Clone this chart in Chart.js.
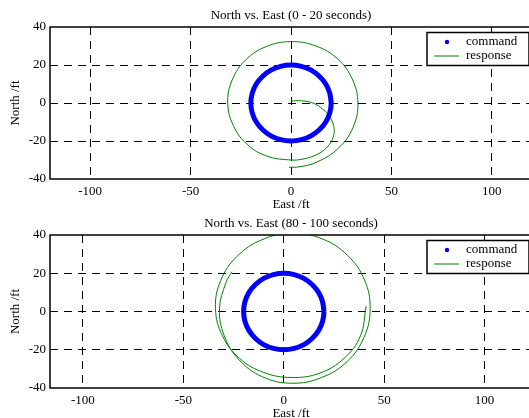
<!DOCTYPE html>
<html>
<head>
<meta charset="utf-8">
<script src="https://cdn.jsdelivr.net/npm/chart.js@4/dist/chart.umd.min.js"></script>
<style>
  html, body { margin: 0; padding: 0; background: #fff; overflow: hidden; width: 529px; height: 418px; }
  .plot { position: absolute; left: 0; }
</style>
</head>
<body>
<div class="plot" style="top:0"><canvas id="chartEarly" width="532" height="209"></canvas></div>
<div class="plot" style="top:208px"><canvas id="chartLate" width="532" height="210"></canvas></div>
<script>
// tick labels
const xTicks = [-100, -50, 0, 50, 100];
const yTicks = [-40, -20, 0, 20, 40];

// command path: 20 ft circle (same in both windows)
const commandEast  = [20, 19.3, 17.3, 14.1, 10, 5.2, 0, -5.2, -10, -14.1, -17.3, -19.3, -20, -19.3, -17.3, -14.1, -10, -5.2, 0, 5.2, 10, 14.1, 17.3, 19.3, 20, 19.3];
const commandNorth = [0, 5.2, 10, 14.1, 17.3, 19.3, 20, 19.3, 17.3, 14.1, 10, 5.2, 0, -5.2, -10, -14.1, -17.3, -19.3, -20, -19.3, -17.3, -14.1, -10, -5.2, 0, 5.2];

// response, 0 - 20 s (spirals out from the origin)
const responseEarlyEast  = [0, 4, 8, 12, 15.5, 18.5, 20.6, 21.5, 21, 19, 15.5, 11, 5.5, 0, -11.6, -21.8, -28.7, -31.5,
                            -29.3, -22.6, -12.3, 0, 12.4, 23.2, 30.5, 33.3, 30.9, 23.7, 12.9, 4, -1];
const responseEarlyNorth = [1, 1.2, 0.8, -0.5, -3, -6, -10, -14, -18, -22, -25.5, -28, -29.6, -30, -28.1, -21.8, -11.9, 0,
                            12.1, 22.6, 29.7, 32.3, 30, 23.2, 12.6, 0, -12.8, -23.7, -31.1, -33.6, -33.8];

// response, 80 - 100 s (two laps)
const responseLateEast  = [41, 38.2, 30, 18, 4, -9.9, -22, -30.5, -34, -31.4, -23.3, -10.9, 4, 19.1, 31.8, 40.2, 43,
                           40, 31.6, 18.9, 4, -10.7, -22.5, -29.7, -32, -28.8, -25.8];
const responseLateNorth = [2.8, -12.7, -24.5, -32.2, -34.5, -31.9, -24.5, -12.8, 1.5, 16.2, 28.8, 37.5, 41, 38, 29.3, 16.5, 1.5,
                           -13.4, -26.1, -34.5, -37.5, -34.1, -25, -12.5, 1.5, 15.1, 20.8];

Chart.defaults.font.family = '"Liberation Serif", "Times New Roman", serif';
Chart.defaults.font.size = 13;
Chart.defaults.color = '#000';

function toPoints(xs, ys) {
  return xs.map((x, i) => ({ x: x, y: ys[i] }));
}

// axes box + boxed legend in the upper right corner
const boxLegend = {
  id: 'boxLegend',
  afterDraw(chart) {
    const { ctx, chartArea: a } = chart;
    ctx.save();
    ctx.strokeStyle = '#000';
    ctx.lineWidth = 1.5;
    ctx.strokeRect(a.left, a.top, a.right - a.left, a.bottom - a.top);

    const w = 102, h = 33;
    const bx = a.right - 3 - w, by = a.top + 5.5;
    ctx.fillStyle = '#fff';
    ctx.fillRect(bx, by, w, h);
    ctx.strokeRect(bx, by, w, h);

    ctx.font = '13px "Liberation Serif"';
    ctx.textBaseline = 'middle';
    chart.data.datasets.forEach((d, i) => {
      const yy = by + 9.5 + i * 14;
      if (d.pointStyle === 'circle') {
        ctx.fillStyle = d.borderColor;
        ctx.beginPath();
        ctx.arc(bx + 20, yy, 2.2, 0, Math.PI * 2);
        ctx.fill();
      } else {
        ctx.strokeStyle = d.borderColor;
        ctx.lineWidth = 1;
        ctx.beginPath();
        ctx.moveTo(bx + 7, yy);
        ctx.lineTo(bx + 32, yy);
        ctx.stroke();
      }
      ctx.fillStyle = '#000';
      ctx.fillText(d.label, bx + 39, yy);
    });
    ctx.restore();
  }
};

function makeChart(canvasId, title, xMin, xMax, respEast, respNorth) {
  return new Chart(document.getElementById(canvasId), {
    type: 'scatter',
    data: {
      datasets: [
        {
          label: 'command',
          data: toPoints(commandEast, commandNorth),
          showLine: true,
          borderColor: '#0000FF',
          backgroundColor: '#0000FF',
          borderWidth: 5,
          pointRadius: 0,
          pointStyle: 'circle',
          tension: 0.4
        },
        {
          label: 'response',
          data: toPoints(respEast, respNorth),
          showLine: true,
          borderColor: '#008000',
          backgroundColor: '#008000',
          borderWidth: 1,
          pointRadius: 0,
          pointStyle: 'line',
          tension: 0.4
        }
      ]
    },
    options: {
      responsive: false,
      animation: false,
      layout: { padding: 0 },
      plugins: {
        legend: { display: false },
        tooltip: { enabled: false },
        title: {
          display: true,
          text: title,
          fullSize: false,
          font: { size: 13, weight: 'normal' },
          padding: { top: 7.5, bottom: 3.9 }
        }
      },
      scales: {
        x: {
          type: 'linear',
          min: xMin,
          max: xMax,
          afterBuildTicks: s => { s.ticks = xTicks.map(v => ({ value: v })); },
          afterFit: s => { s.height = 30; },
          ticks: { padding: 5 },
          grid: { color: '#000', drawTicks: false },
          border: { display: false, dash: [8, 6] },
          title: { display: true, text: 'East /ft', padding: { top: 0, bottom: -3.5 } }
        },
        y: {
          type: 'linear',
          min: -40,
          max: 40,
          afterBuildTicks: s => { s.ticks = yTicks.map(v => ({ value: v })); },
          afterFit: s => { s.width = 50; },
          ticks: { padding: 4 },
          grid: {
            color: c => (c.tick && Math.abs(c.tick.value) === 40 ? 'rgba(0,0,0,0)' : '#000'),
            drawTicks: false
          },
          border: { display: false, dash: [8, 6] },
          title: { display: true, text: 'North /ft', padding: { top: 8, bottom: 0 } }
        }
      }
    },
    plugins: [boxLegend]
  });
}

makeChart('chartEarly', 'North vs. East (0 - 20 seconds)', -120, 120, responseEarlyEast, responseEarlyNorth);
makeChart('chartLate', 'North vs. East (80 - 100 seconds)', -116.4, 123.6, responseLateEast, responseLateNorth);
</script>
</body>
</html>
